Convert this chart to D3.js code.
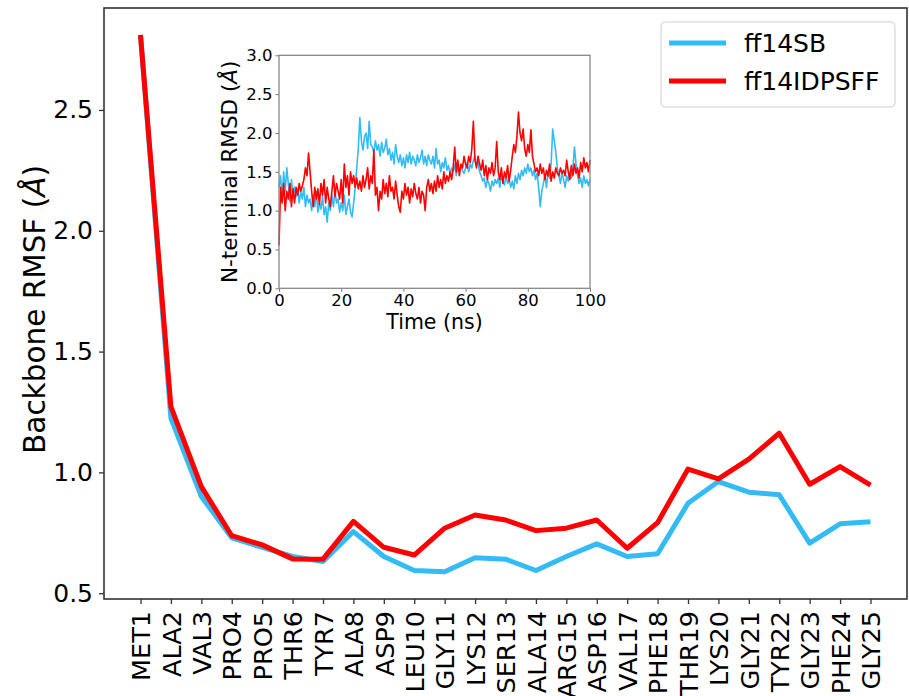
<!DOCTYPE html>
<html>
<head>
<meta charset="utf-8">
<title>Backbone RMSF</title>
<script src="https://cdnjs.cloudflare.com/ajax/libs/d3/7.8.5/d3.min.js"></script>
<style>
  body { margin: 0; background: white; }
  text { font-family: "DejaVu Sans", sans-serif; fill: #000; }
</style>
</head>
<body>
<div id="chart"></div>
<script>
// residues on the main x axis
const residues = ["MET1", "ALA2", "VAL3", "PRO4", "PRO5", "THR6", "TYR7", "ALA8", "ASP9", "LEU10",
  "GLY11", "LYS12", "SER13", "ALA14", "ARG15", "ASP16", "VAL17", "PHE18", "THR19", "LYS20",
  "GLY21", "TYR22", "GLY23", "PHE24", "GLY25"]

// backbone RMSF (A) per residue
const rmsfSB = [2.81, 1.225, 0.90, 0.729, 0.69, 0.652, 0.631, 0.755, 0.652, 0.594,
  0.589, 0.647, 0.641, 0.594, 0.652, 0.704, 0.652, 0.663, 0.872, 0.962,
  0.918, 0.907, 0.707, 0.787, 0.796]
const rmsfIDP = [2.81, 1.272, 0.941, 0.738, 0.70, 0.642, 0.641, 0.797, 0.69, 0.658,
  0.769, 0.824, 0.803, 0.759, 0.769, 0.803, 0.686, 0.792, 1.014, 0.973,
  1.055, 1.162, 0.951, 1.024, 0.947]
const rmsfTicks = [0.5, 1.0, 1.5, 2.0, 2.5]

const seriesNames = ["ff14SB", "ff14IDPSFF"]
const seriesColors = ["#33bbf6", "#ff0000"]

// inset: N-terminal RMSD over time, one value every 0.5 ns
const timeStep = 0.5
const rmsdSB = [
  1.30, 1.45, 1.15, 1.50, 1.25, 1.55, 1.35, 1.12, 1.40, 1.20,
  1.30, 1.18, 1.28, 1.10, 1.25, 1.15, 1.30, 1.05, 1.20, 1.10,
  1.15, 1.00, 1.20, 1.05, 1.25, 0.98, 1.10, 1.02, 1.18, 0.95,
  1.05, 0.85, 1.10, 1.00, 1.20, 1.05, 1.25, 1.10, 1.15, 0.98,
  1.10, 1.00, 1.20, 0.95, 1.05, 1.15, 0.98, 0.92, 1.10, 1.30,
  1.55, 1.80, 2.20, 1.90, 1.78, 1.95, 2.00, 1.80, 2.15, 1.85,
  1.82, 1.75, 1.90, 1.78, 1.85, 1.70, 1.88, 1.75, 1.80, 1.92,
  1.72, 1.80, 1.65, 1.75, 1.60, 1.85, 1.70, 1.62, 1.72, 1.58,
  1.68, 1.55, 1.72, 1.62, 1.75, 1.60, 1.70, 1.65, 1.58, 1.72,
  1.62, 1.68, 1.78, 1.60, 1.70, 1.58, 1.72, 1.65, 1.60, 1.70,
  1.55, 1.80, 1.60, 1.65, 1.50, 1.62, 1.55, 1.68, 1.52, 1.58,
  1.48, 1.55, 1.50, 1.60, 1.45, 1.55, 1.50, 1.58, 1.52, 1.48,
  1.55, 1.62, 1.50, 1.60, 1.55, 1.65, 1.70, 1.58, 1.62, 1.50,
  1.45, 1.38, 1.42, 1.30, 1.40, 1.35, 1.25, 1.38, 1.32, 1.40,
  1.35, 1.42, 1.30, 1.45, 1.38, 1.33, 1.45, 1.35, 1.40, 1.30,
  1.38, 1.28, 1.45, 1.35, 1.48, 1.40, 1.52, 1.45, 1.55, 1.48,
  1.60, 1.50, 1.55, 1.45, 1.52, 1.40, 1.48, 1.30, 1.05, 1.25,
  1.35, 1.45, 1.30, 1.50, 1.42, 1.60, 2.05, 1.90, 1.75, 1.55,
  1.45, 1.35, 1.50, 1.40, 1.30, 1.45, 1.38, 1.50, 1.42, 1.55,
  1.82, 1.60, 1.45, 1.35, 1.42, 1.30, 1.45, 1.35, 1.40, 1.32,
  1.40]
const rmsdIDP = [
  0.55, 1.30, 1.10, 1.35, 1.00, 1.25, 1.15, 1.35, 1.05, 1.28,
  1.10, 1.30, 1.20, 1.35, 1.25, 1.32, 1.40, 1.55, 1.45, 1.74,
  1.50, 1.25, 1.05, 1.30, 1.15, 1.28, 1.08, 1.35, 1.20, 1.40,
  1.10, 1.30, 1.15, 1.05, 1.25, 1.45, 1.18, 1.35, 1.25, 1.15,
  1.40, 1.10, 1.60, 1.30, 1.45, 1.20, 1.50, 1.35, 1.45, 1.30,
  1.42, 1.28, 1.38, 1.25, 1.45, 1.30, 1.40, 1.55, 1.28, 1.45,
  1.35, 1.78, 1.20, 1.30, 1.00, 1.25, 1.15, 1.40, 1.22, 1.35,
  1.18, 1.45, 1.25, 1.30, 1.15, 1.38, 1.20, 1.05, 0.98, 1.25,
  1.15, 1.35, 1.20, 1.30, 1.10, 1.28, 1.18, 1.35, 1.22, 1.15,
  1.30, 1.10, 1.25, 1.20, 1.00, 1.30, 1.40, 1.25, 1.35, 1.22,
  1.38, 1.25, 1.45, 1.30, 1.40, 1.28, 1.50, 1.35, 1.45, 1.38,
  1.50, 1.40, 1.55, 1.82, 1.50, 1.65, 1.45, 1.60, 1.55, 1.70,
  1.60, 1.55, 1.70, 1.62, 1.80, 2.15, 1.65, 1.55, 1.70, 1.60,
  1.52, 1.65, 1.45, 1.58, 1.40, 1.55, 1.48, 1.62, 1.45, 1.55,
  1.89, 1.50, 1.40, 1.55, 1.35, 1.50, 1.42, 1.58, 1.38, 1.52,
  1.70, 1.85, 1.75, 1.95, 2.27, 2.00, 1.90, 2.05, 1.80, 1.70,
  1.85, 1.75, 2.04, 1.70, 1.60, 1.50, 1.55, 1.45, 1.60, 1.48,
  1.55, 1.40, 1.52, 1.45, 1.60, 1.38, 1.50, 1.42, 1.55, 1.48,
  1.45, 1.55, 1.48, 1.52, 1.45, 1.65, 1.50, 1.40, 1.58, 1.45,
  1.60, 1.48, 1.55, 1.42, 1.62, 1.50, 1.68, 1.55, 1.62, 1.50,
  1.65]
const timeTicks = [0, 20, 40, 60, 80, 100]
const rmsdTicks = [0.0, 0.5, 1.0, 1.5, 2.0, 2.5, 3.0]

const width = 909, height = 696

const svg = d3.select("#chart")
  .append("svg")
  .attr("width", width)
  .attr("height", height)
  .style("display", "block")

svg.append("rect").attr("width", width).attr("height", height).attr("fill", "white")

// ---------- main chart ----------
const main = { left: 104, right: 907, top: 8, bottom: 599 }

const x = d3.scaleLinear()
  .domain([-1.2, residues.length - 1 + 1.2])
  .range([main.left, main.right])
const y = d3.scaleLinear()
  .domain([0.476, 2.922])
  .range([main.bottom, main.top])

const yAxis = svg.append("g")
  .attr("transform", `translate(${main.left},0)`)
  .call(d3.axisLeft(y).tickValues(rmsfTicks).tickFormat(d3.format(".1f")).tickSize(5).tickPadding(6))
yAxis.select(".domain").remove()
yAxis.selectAll("line").attr("stroke", "#333").attr("stroke-width", 1.3)
yAxis.selectAll("text").attr("font-size", 25).attr("font-family", "DejaVu Sans").attr("fill", "#000")

const xAxis = svg.append("g")
  .attr("transform", `translate(0,${main.bottom})`)
  .call(d3.axisBottom(x).tickValues(d3.range(residues.length)).tickFormat(i => residues[i]).tickSize(5))
xAxis.select(".domain").remove()
xAxis.selectAll("line").attr("stroke", "#333").attr("stroke-width", 1.3)
xAxis.selectAll("text")
  .attr("font-size", 25.5)
  .attr("font-family", "DejaVu Sans")
  .attr("fill", "#000")
  .attr("text-anchor", "end")
  .attr("transform", "rotate(-90)")
  .attr("x", -12)
  .attr("y", 0)
  .attr("dy", "0.36em")

svg.append("text")
  .attr("transform", `translate(45,${(main.top + main.bottom) / 2 + 6}) rotate(-90)`)
  .attr("text-anchor", "middle")
  .attr("font-size", 29.5)
  .text("Backbone RMSF (")
  .call(t => t.append("tspan").attr("font-style", "italic").text("Å"))
  .call(t => t.append("tspan").text(")"))

const rmsfLine = d3.line()
  .x((d, i) => x(i))
  .y(d => y(d))

;[rmsfSB, rmsfIDP].forEach((vals, k) => {
  svg.append("path")
    .datum(vals)
    .attr("d", rmsfLine)
    .attr("fill", "none")
    .attr("stroke", seriesColors[k])
    .attr("stroke-width", 5)
    .attr("stroke-linejoin", "round")
})

svg.append("rect")
  .attr("x", main.left).attr("y", main.top)
  .attr("width", main.right - main.left).attr("height", main.bottom - main.top)
  .attr("fill", "none").attr("stroke", "#333").attr("stroke-width", 1.6)

// ---------- legend ----------
const legend = svg.append("g")
legend.append("rect")
  .attr("x", 661).attr("y", 22).attr("width", 234).attr("height", 85)
  .attr("rx", 4)
  .attr("fill", "white").attr("fill-opacity", 0.8)
  .attr("stroke", "#d0d0d0").attr("stroke-width", 1)
seriesNames.forEach((name, k) => {
  const ly = 43 + k * 38
  legend.append("line")
    .attr("x1", 669).attr("x2", 726).attr("y1", ly).attr("y2", ly)
    .attr("stroke", seriesColors[k]).attr("stroke-width", 5)
  legend.append("text")
    .attr("x", 744).attr("y", ly).attr("dy", "0.35em")
    .attr("font-size", 25)
    .text(name)
})

// ---------- inset ----------
const ins = { left: 279, right: 590, top: 55.3, bottom: 288.3 }
const tx = d3.scaleLinear().domain([0, 100]).range([ins.left, ins.right])
const ty = d3.scaleLinear().domain([0, 3]).range([ins.bottom, ins.top])

svg.append("rect")
  .attr("x", ins.left).attr("y", ins.top)
  .attr("width", ins.right - ins.left).attr("height", ins.bottom - ins.top)
  .attr("fill", "white")

const rmsdLine = d3.line()
  .x((d, i) => tx(i * timeStep))
  .y(d => ty(d))

;[rmsdSB, rmsdIDP].forEach((vals, k) => {
  svg.append("path")
    .datum(vals)
    .attr("d", rmsdLine)
    .attr("fill", "none")
    .attr("stroke", seriesColors[k])
    .attr("stroke-width", 1.6)
    .attr("stroke-linejoin", "round")
})

const iy = svg.append("g")
  .attr("transform", `translate(${ins.left},0)`)
  .call(d3.axisLeft(ty).tickValues(rmsdTicks).tickFormat(d3.format(".1f")).tickSize(3.5).tickPadding(3))
iy.select(".domain").remove()
iy.selectAll("line").attr("stroke", "#777")
iy.selectAll("text").attr("font-size", 16.5).attr("font-family", "DejaVu Sans").attr("fill", "#000")

const ix = svg.append("g")
  .attr("transform", `translate(0,${ins.bottom})`)
  .call(d3.axisBottom(tx).tickValues(timeTicks).tickSize(3.5).tickPadding(2))
ix.select(".domain").remove()
ix.selectAll("line").attr("stroke", "#777")
ix.selectAll("text").attr("font-size", 16.5).attr("font-family", "DejaVu Sans").attr("fill", "#000")

svg.append("rect")
  .attr("x", ins.left).attr("y", ins.top)
  .attr("width", ins.right - ins.left).attr("height", ins.bottom - ins.top)
  .attr("fill", "none").attr("stroke", "#888").attr("stroke-width", 1.3)

svg.append("text")
  .attr("x", (ins.left + ins.right) / 2).attr("y", 329)
  .attr("text-anchor", "middle")
  .attr("font-size", 20.5)
  .text("Time (ns)")

svg.append("text")
  .attr("transform", `translate(237,${(ins.top + ins.bottom) / 2}) rotate(-90)`)
  .attr("text-anchor", "middle")
  .attr("font-size", 21.5)
  .text("N-terminal RMSD (")
  .call(t => t.append("tspan").attr("font-style", "italic").text("Å"))
  .call(t => t.append("tspan").text(")"))
</script>
</body>
</html>
